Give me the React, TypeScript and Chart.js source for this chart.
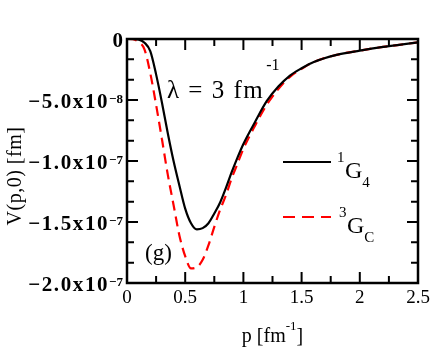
import React, { useEffect, useRef } from "react";
import { Chart, registerables } from "chart.js";

Chart.register(...registerables);

// momentum p [fm^-1]
const pValues = [0, 0.05, 0.1, 0.15, 0.2, 0.25, 0.3, 0.35, 0.4, 0.45, 0.5, 0.55, 0.6, 0.65, 0.7, 0.75, 0.8, 0.85, 0.9, 0.95, 1.0, 1.1, 1.2, 1.3, 1.4, 1.5, 1.6, 1.8, 2.0, 2.2, 2.4, 2.5];
// V(p,0) in units of 1e-8 fm
const v1G4 = [0, 0, -0.05, -0.3, -1.0, -2.9, -5.2, -7.7, -10.0, -12.0, -13.9, -15.1, -15.6, -15.5, -15.1, -14.3, -13.4, -12.2, -10.9, -9.7, -8.6, -6.8, -5.1, -3.9, -3.0, -2.4, -1.9, -1.3, -0.95, -0.65, -0.4, -0.27];
const v3GC = [0, -0.02, -0.25, -0.85, -2.8, -5.4, -8.2, -11.1, -13.6, -16.1, -17.8, -18.8, -18.7, -18.1, -16.9, -15.4, -14.0, -12.8, -11.4, -10.2, -9.0, -7.1, -5.4, -4.1, -3.1, -2.45, -1.9, -1.3, -0.95, -0.65, -0.4, -0.27];
const UNIT = 1e-8;

const xTickValues = [0, 0.5, 1, 1.5, 2, 2.5];
const xTickLabels = ["0", "0.5", "1", "1.5", "2", "2.5"];
const yTickValues = [0, -5e-8, -1e-7, -1.5e-7, -2e-7];
const yTickMantissa = ["0", "\u22125.0x10", "\u22121.0x10", "\u22121.5x10", "\u22122.0x10"];
const yTickExponent = ["", "\u22128", "\u22127", "\u22127", "\u22127"];

const seriesNames = ["1G4", "3GC"];
const FONT = "'Liberation Serif', 'DejaVu Serif', serif";

const decorPlugin = {
  id: "decor",
  afterDatasetsDraw(chart: any) {
    const { ctx, chartArea: a, scales } = chart;
    const x = scales.x;
    const y = scales.y;
    ctx.save();
    ctx.strokeStyle = "#000";
    ctx.lineWidth = 2.5;
    ctx.strokeRect(a.left, a.top, a.right - a.left, a.bottom - a.top);

    ctx.lineWidth = 2;
    // x ticks (major every 0.5, minor at half)
    for (let i = 0; i < xTickValues.length; i++) {
      const vals = [xTickValues[i]];
      if (i < xTickValues.length - 1) vals.push((xTickValues[i] + xTickValues[i + 1]) / 2);
      vals.forEach((v, k) => {
        const px = x.getPixelForValue(v);
        const len = k === 0 ? 11 : 7;
        ctx.beginPath();
        ctx.moveTo(px, a.bottom);
        ctx.lineTo(px, a.bottom - len);
        ctx.moveTo(px, a.top);
        ctx.lineTo(px, a.top + len);
        ctx.stroke();
      });
    }
    // y ticks (major every 5e-8, two minors between)
    for (let i = 0; i < yTickValues.length; i++) {
      const vals = [yTickValues[i]];
      if (i < yTickValues.length - 1) {
        const d = yTickValues[i + 1] - yTickValues[i];
        vals.push(yTickValues[i] + d / 3, yTickValues[i] + (2 * d) / 3);
      }
      vals.forEach((v, k) => {
        const py = y.getPixelForValue(v);
        const len = k === 0 ? 11 : 7;
        ctx.beginPath();
        ctx.moveTo(a.left, py);
        ctx.lineTo(a.left + len, py);
        ctx.moveTo(a.right, py);
        ctx.lineTo(a.right - len, py);
        ctx.stroke();
      });
    }

    ctx.fillStyle = "#000";
    // x tick labels
    ctx.font = `19px ${FONT}`;
    ctx.textAlign = "center";
    ctx.textBaseline = "alphabetic";
    xTickValues.forEach((v, i) => {
      ctx.fillText(xTickLabels[i], x.getPixelForValue(v), a.bottom + 20);
    });

    // y tick labels
    yTickValues.forEach((v, i) => {
      const py = y.getPixelForValue(v) + 3;
      const right = a.left - 4;
      ctx.textAlign = "right";
      let supW = 0;
      if (yTickExponent[i]) {
        ctx.font = `bold 13px ${FONT}`;
        ctx.textBaseline = "alphabetic";
        ctx.fillText(yTickExponent[i], right, py + 0);
        supW = ctx.measureText(yTickExponent[i]).width;
      }
      ctx.font = `bold 21px ${FONT}`;
      ctx.textBaseline = "middle";
      (ctx as any).letterSpacing = i === 0 ? "0px" : "1.6px";
      ctx.fillText(yTickMantissa[i], right - supW, py);
      (ctx as any).letterSpacing = "0px";
    });

    // x title: p [fm^-1]
    const cx = (a.left + a.right) / 2;
    ctx.textBaseline = "alphabetic";
    ctx.textAlign = "left";
    ctx.font = `20px ${FONT}`;
    const t1 = "p [fm";
    const t3 = "]";
    const w1 = ctx.measureText(t1).width;
    const w3 = ctx.measureText(t3).width;
    ctx.font = `13px ${FONT}`;
    const t2 = "-1";
    const w2 = ctx.measureText(t2).width;
    const sx = cx - (w1 + w2 + w3) / 2;
    const by = 342;
    ctx.font = `20px ${FONT}`;
    ctx.fillText(t1, sx, by);
    ctx.font = `13px ${FONT}`;
    ctx.fillText(t2, sx + w1, by - 12);
    ctx.font = `20px ${FONT}`;
    ctx.fillText(t3, sx + w1 + w2, by);

    // y title
    ctx.save();
    ctx.translate(16, 176);
    ctx.rotate(-Math.PI / 2);
    ctx.font = `20px ${FONT}`;
    ctx.textAlign = "center";
    ctx.textBaseline = "middle";
    (ctx as any).letterSpacing = "0.5px";
    ctx.fillText("V(p,0) [fm]", 0, 0);
    ctx.restore();

    // lambda annotation
    ctx.textAlign = "left";
    ctx.textBaseline = "alphabetic";
    ctx.font = `25px ${FONT}`;
    const lt = "\u03bb = 3 fm";
    (ctx as any).letterSpacing = "1.5px";
    ctx.fillText(lt, 167, 98);
    const lw = ctx.measureText(lt).width;
    (ctx as any).letterSpacing = "0px";
    ctx.font = `16px ${FONT}`;
    ctx.fillText("-1", 167 + lw + 2, 70);

    // panel label
    ctx.font = `23px ${FONT}`;
    ctx.fillText("(g)", 145, 260);

    // legend
    const drawEntry = (ly: number, color: string, dash: number[], sup: string, sub: string, gx: number) => {
      ctx.save();
      ctx.strokeStyle = color;
      ctx.lineWidth = 2.2;
      ctx.setLineDash(dash);
      ctx.beginPath();
      ctx.moveTo(283, ly);
      ctx.lineTo(331, ly);
      ctx.stroke();
      ctx.restore();
      ctx.fillStyle = "#000";
      ctx.font = `15px ${FONT}`;
      ctx.fillText(sup, gx - 8, ly);
      ctx.font = `24px ${FONT}`;
      ctx.fillText("G", gx, ly + 16);
      const gw = ctx.measureText("G").width;
      ctx.font = `15px ${FONT}`;
      ctx.fillText(sub, gx + gw, ly + 25);
    };
    drawEntry(162, "#000", [], seriesNames[0][0], seriesNames[0].slice(2), 345);
    drawEntry(217, "#ff0000", [12, 7], seriesNames[1][0], seriesNames[1].slice(2), 347);

    ctx.restore();
  },
};

export default function App() {
  const ref = useRef<HTMLCanvasElement | null>(null);
  useEffect(() => {
    document.body.style.margin = "0";
    const canvas = ref.current;
    if (!canvas) return;
    const chart = new Chart(canvas, {
      type: "line",
      data: {
        datasets: [
          {
            label: seriesNames[0],
            data: pValues.map((p, i) => ({ x: p, y: v1G4[i] * UNIT })),
            borderColor: "#000",
            borderWidth: 2.2,
            pointRadius: 0,
            cubicInterpolationMode: "monotone",
            fill: false,
          },
          {
            label: seriesNames[1],
            data: pValues.map((p, i) => ({ x: p, y: v3GC[i] * UNIT })),
            borderColor: "#ff0000",
            borderWidth: 2.2,
            borderDash: [10, 6],
            pointRadius: 0,
            cubicInterpolationMode: "monotone",
            fill: false,
          },
        ],
      },
      options: {
        responsive: false,
        animation: false,
        devicePixelRatio: 1,
        layout: { padding: { left: 127, right: 18, top: 39, bottom: 71 } },
        scales: {
          x: { type: "linear", min: 0, max: 2.5, display: false },
          y: { type: "linear", min: -2e-7, max: 0, display: false },
        },
        plugins: {
          legend: { display: false },
          tooltip: { enabled: false },
        },
      },
      plugins: [decorPlugin],
    });
    return () => chart.destroy();
  }, []);
  return (
    <div style={{ width: 436, height: 354, background: "#fff" }}>
      <canvas ref={ref} width={436} height={354} style={{ display: "block" }} />
    </div>
  );
}
